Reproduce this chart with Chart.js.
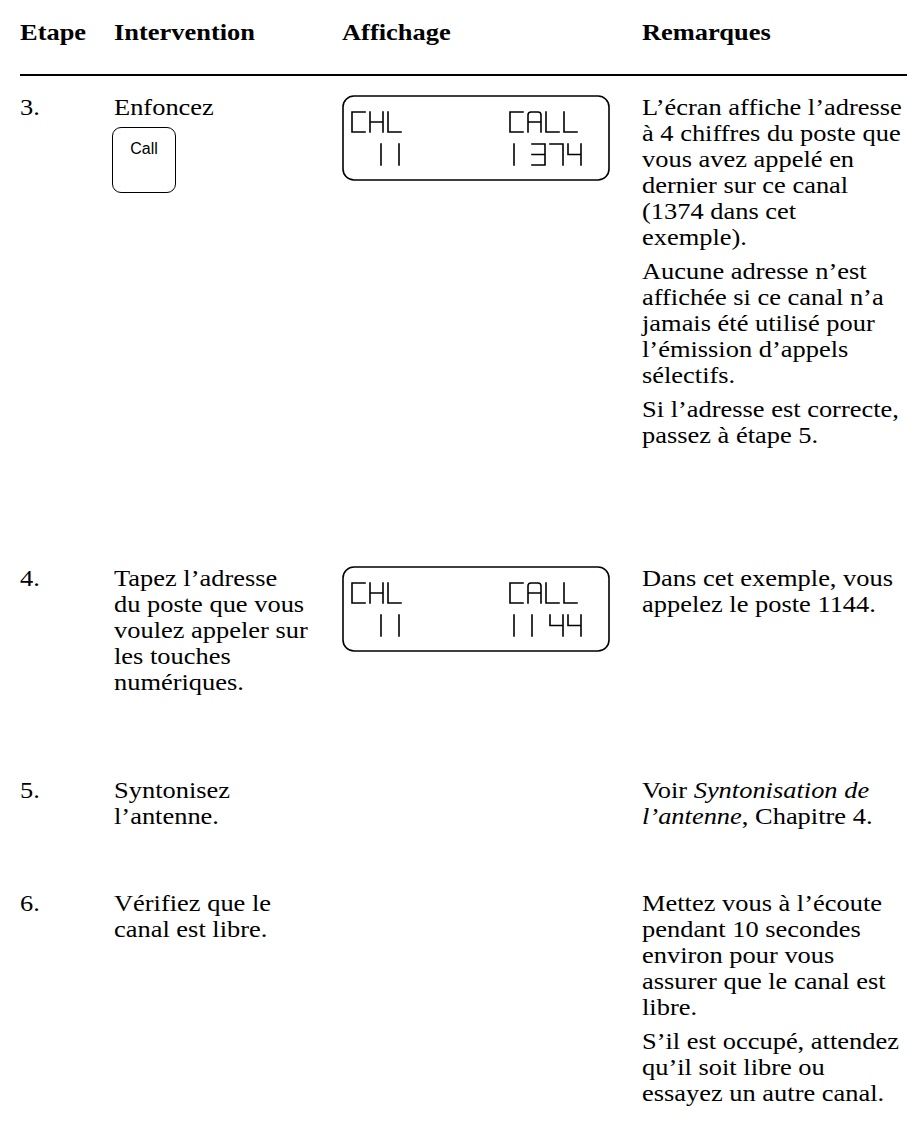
<!DOCTYPE html>
<html>
<head>
<meta charset="utf-8">
<script src="https://cdn.jsdelivr.net/npm/chart.js@4"></script>
<style>
  body { margin: 0; background: #fff; }
  #page { position: relative; width: 907px; height: 1128px; overflow: hidden;
          font-family: "Liberation Serif", "Times New Roman", serif; color: #000; }
  .hdr, .cell { position: absolute; font-size: 23.4px; line-height: 26px; white-space: nowrap;
                transform: scaleX(1.13); transform-origin: 0 0; }
  .hdr { top: 19px; font-weight: bold; }
  .rule { position: absolute; left: 20px; right: 0; top: 74px; height: 2px; background: #000; }
  .cell p { margin: 0 0 8px 0; }
  .key { position: absolute; width: 64px; height: 66px; border: 1.5px solid #000; border-radius: 9px;
         font-family: "Liberation Sans", Arial, sans-serif; font-size: 16px; text-align: center;
         line-height: 16px; box-sizing: border-box; padding-top: 13px; }
  canvas.lcd { position: absolute; }
</style>
</head>
<body>
<div id="page"></div>
<script>
// column headers
const headers = ['Etape', 'Intervention', 'Affichage', 'Remarques'];

// table content
const steps = ['3.', '4.', '5.', '6.'];
const interventions = [
    ['Enfoncez'],
    ['Tapez l’adresse', 'du poste que vous', 'voulez appeler sur', 'les touches', 'numériques.'],
    ['Syntonisez', 'l’antenne.'],
    ['Vérifiez que le', 'canal est libre.']
];
const keys = ['Call', null, null, null];
const lcdTop = [['CHL', 'CALL'], ['CHL', 'CALL'], null, null];
const lcdBottom = [['11', '1374'], ['11', '1144'], null, null];
const remarks = [
    [['L’écran affiche l’adresse', 'à 4 chiffres du poste que', 'vous avez appelé en', 'dernier sur ce canal', '(1374 dans cet', 'exemple).'],
     ['Aucune adresse n’est', 'affichée si ce canal n’a', 'jamais été utilisé pour', 'l’émission d’appels', 'sélectifs.'],
     ['Si l’adresse est correcte,', 'passez à étape 5.']],
    [['Dans cet exemple, vous', 'appelez le poste 1144.']],
    [['Voir <i>Syntonisation de</i>', '<i>l’antenne</i>, Chapitre 4.']],
    [['Mettez vous à l’écoute', 'pendant 10 secondes', 'environ pour vous', 'assurer que le canal est', 'libre.'],
     ['S’il est occupé, attendez', 'qu’il soit libre ou', 'essayez un autre canal.']]
];

// layout
const colX = [20, 114, 342, 642];
const rowTop = [94, 565, 777, 890];

const page = document.getElementById('page');

headers.forEach((h, i) => {
    const d = document.createElement('div');
    d.className = 'hdr';
    d.style.left = colX[i] + 'px';
    d.textContent = h;
    page.appendChild(d);
});
const rule = document.createElement('div');
rule.className = 'rule';
page.appendChild(rule);

function addCell(x, y, html) {
    const d = document.createElement('div');
    d.className = 'cell';
    d.style.left = x + 'px';
    d.style.top = y + 'px';
    d.innerHTML = html;
    page.appendChild(d);
    return d;
}

// 7 segment glyphs: a top, b top right, c bottom right, d bottom, e bottom left, f top left, g middle
const segs = {
    'C': 'adef', 'H': 'bcefg', 'L': 'def', 'A': 'bcefg',
    '1': 'ef', '3': 'abcdg', '4': 'bcfg', '7': 'abc'
};

function drawGlyphs(ctx, text, x, y, w, h) {
    for (const ch of text) {
        const s = segs[ch] || '';
        const m = y + h / 2;
        const lines = {
            a: [x, y, x + w, y], b: [x + w, y, x + w, m], c: [x + w, m, x + w, y + h],
            d: [x, y + h, x + w, y + h], e: [x, m, x, y + h], f: [x, y, x, m], g: [x, m, x + w, m]
        };
        ctx.beginPath();
        if (ch === 'A') {
            // rounded top like the real display
            const r = 3;
            ctx.moveTo(x, y + h);
            ctx.lineTo(x, y + r);
            ctx.quadraticCurveTo(x, y, x + r, y);
            ctx.lineTo(x + w - r, y);
            ctx.quadraticCurveTo(x + w, y, x + w, y + r);
            ctx.lineTo(x + w, y + h);
            ctx.moveTo(x, m);
            ctx.lineTo(x + w, m);
        } else {
            for (const k of s) {
                const l = lines[k];
                ctx.moveTo(l[0], l[1]);
                ctx.lineTo(l[2], l[3]);
            }
        }
        ctx.stroke();
        x += 18;
    }
}

// draws the LCD frame and its characters on top of an empty chart
const lcdPlugin = {
    id: 'lcd',
    afterDraw(chart) {
        const ctx = chart.ctx;
        const o = chart.options.plugins.lcd;
        ctx.save();
        ctx.strokeStyle = '#000';
        ctx.lineWidth = 1.6;
        ctx.beginPath();
        ctx.roundRect(1, 1, chart.width - 2, chart.height - 2, 11);
        ctx.stroke();
        ctx.lineWidth = 1.6;
        ctx.lineCap = 'square';
        drawGlyphs(ctx, o.top[0], 10, 17, 13, 20);
        drawGlyphs(ctx, o.top[1], 168, 17, 13, 20);
        drawGlyphs(ctx, o.bottom[0], 39, 49, 13, 21);
        drawGlyphs(ctx, o.bottom[1], 172, 49, 13, 21);
        ctx.restore();
    }
};

steps.forEach((step, r) => {
    const y = rowTop[r];
    addCell(colX[0], y, step);
    addCell(colX[1], y, interventions[r].join('<br>'));
    if (keys[r]) {
        const k = document.createElement('div');
        k.className = 'key';
        k.style.left = '112px';
        k.style.top = (y + 33) + 'px';
        k.textContent = keys[r];
        page.appendChild(k);
    }
    if (lcdTop[r]) {
        const c = document.createElement('canvas');
        c.className = 'lcd';
        c.width = 268;
        c.height = 86;
        c.style.left = colX[2] + 'px';
        c.style.top = (y + 1) + 'px';
        page.appendChild(c);
        new Chart(c, {
            type: 'scatter',
            data: { datasets: [] },
            options: {
                responsive: false,
                animation: false,
                events: [],
                scales: { x: { display: false }, y: { display: false } },
                plugins: {
                    legend: { display: false },
                    tooltip: { enabled: false },
                    lcd: { top: lcdTop[r], bottom: lcdBottom[r] }
                }
            },
            plugins: [lcdPlugin]
        });
    }
    addCell(colX[3], y, remarks[r].map(p => '<p>' + p.join('<br>') + '</p>').join(''));
});
</script>
</body>
</html>
